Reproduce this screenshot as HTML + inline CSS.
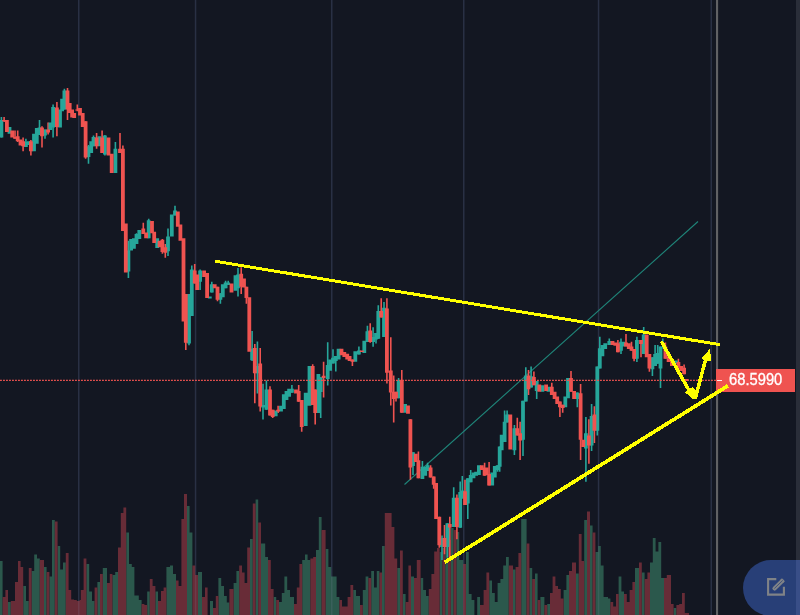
<!DOCTYPE html>
<html lang="en"><head><meta charset="utf-8"><title>Chart</title>
<style>
html,body{margin:0;padding:0;background:#131722;}
body{width:800px;height:615px;overflow:hidden;position:relative;font-family:"Liberation Sans",sans-serif;}
#chart{position:absolute;left:0;top:0;width:800px;height:615px;display:block;}
#price{position:absolute;left:716px;top:369px;width:79px;height:23px;background:#ef5350;color:#fff;font-size:15.6px;line-height:23px;text-align:left;white-space:nowrap;}
#price span{position:absolute;left:12.6px;top:-0.9px;letter-spacing:0px;font-weight:normal;-webkit-text-stroke:0.3px #fff;transform:scaleX(0.945);transform-origin:0 50%;}
#price i{position:absolute;left:1px;top:11px;width:5px;height:1px;background:#fff;opacity:.9;}
#strip{position:absolute;left:796px;top:0;width:4px;height:615px;background:#2a2e39;}
#fab{position:absolute;left:743px;top:560px;width:57px;height:56px;border-radius:28px 0 0 28px;background:#283f77;}
#fab svg{position:absolute;left:23px;top:17px;}
#strip2{position:absolute;left:796px;top:560px;width:4px;height:55px;background:#394e87;}
</style></head><body>
<svg id="chart" width="800" height="615" viewBox="0 0 800 615">
<rect width="800" height="615" fill="#131722"/>
<g fill="#293044">
<rect x="78" y="0" width="1.5" height="615"/>
<rect x="194.8" y="0" width="1.5" height="615"/>
<rect x="331" y="0" width="1.5" height="615"/>
<rect x="463" y="0" width="1.5" height="615"/>
<rect x="597.8" y="0" width="1.5" height="615"/>
<rect x="710.5" y="0" width="1.5" height="615"/>
</g>
<rect x="716" y="0" width="2.1" height="615" fill="#606164"/>
<path fill="#2b584c" d="M0 561H2.6V615H0ZM8 602H10.8V615H8ZM23.2 586H26V615H23.2ZM26 601H28.8V615H26ZM31.6 571H34.2V615H31.6ZM34.2 554.4H37V615H34.2ZM37 558.4H39.8V615H37ZM44 567H46.6V615H44ZM49.4 576.4H52V615H49.4ZM52 520H54.8V615H52ZM57.6 546H60.2V615H57.6ZM60.2 569.6H63V615H60.2ZM63 562.6H65.8V615H63ZM86.4 564H89.2V615H86.4ZM89.2 591.4H92V615H89.2ZM92 601H94.6V615H92ZM97.4 582H100V615H97.4ZM102.8 568H107V615H102.8ZM112.4 575H115.2V615H112.4ZM115.2 572H118V615H115.2ZM126.2 532.4H129V615H126.2ZM129 564H131.8V615H129ZM131.8 567H134.4V615H131.8ZM134.4 595.6H138.8V615H134.4ZM138.8 600H141.6V615H138.8ZM147.2 591.4H149.8V615H147.2ZM155.4 591.4H158V615H155.4ZM166.4 567H170V615H166.4ZM170 565.6H173V615H170ZM173 574H176V615H173ZM187 506H189.6V615H187ZM189.6 532.6H192.4V615H189.6ZM198 572H202V615H198ZM210 601H213V615H210ZM218.4 578H221.2V615H218.4ZM221.2 586H224V615H221.2ZM224 596H226.8V615H224ZM226.8 602.4H229.4V615H226.8ZM233.6 583H236.4V615H233.6ZM236.4 571H239.2V615H236.4ZM250 539H252.8V615H250ZM255.6 499.4H258.2V615H255.6ZM261 543.4H265.2V615H261ZM265.2 557H268V615H265.2ZM273.6 597H276.2V615H273.6ZM279 602H281.8V615H279ZM281.8 593H284.4V615H281.8ZM284.4 576.6H287.2V615H284.4ZM287.2 590H290V615H287.2ZM290 597H294V615H290ZM302.2 560H305V615H302.2ZM305 554.4H307.6V615H305ZM307.6 560H310.4V615H307.6ZM316 550H318.8V615H316ZM318.8 517H320V615H318.8ZM320 517H321.6V615H320ZM325.6 549H328.4V615H325.6ZM328.4 567H331.2V615H328.4ZM331.2 576.4H336.6V615H331.2ZM336.6 597H339.4V615H336.6ZM353.2 590H356V615H353.2ZM356 596H360V615H356ZM362.8 590H365.6V615H362.8ZM365.6 576.4H368.4V615H365.6ZM371.2 571H374V615H371.2ZM374 587.6H376.8V615H374ZM376.8 571H379.4V615H376.8ZM382 546H384.8V615H382ZM397.2 568H400V615H397.2ZM402.8 594H405.6V615H402.8ZM411 576.4H414V615H411ZM420.6 578H423.2V615H420.6ZM423.2 590H426V615H423.2ZM426 596H428.8V615H426ZM439.6 552H442.4V615H439.6ZM445.2 546H448V615H445.2ZM450.8 528H453.6V615H450.8ZM456.4 532H459.2V615H456.4ZM459.2 560H463.2V615H459.2ZM466 552H468.8V615H466ZM468.8 594H471.6V615H468.8ZM471.6 600H474.4V615H471.6ZM477.2 597H480V615H477.2ZM489.2 580.4H492V615H489.2ZM492 593H494.8V615H492ZM494.8 602H497.6V615H494.8ZM497.6 583H500.4V615H497.6ZM500.4 579H503.2V615H500.4ZM503.2 565.4H506V615H503.2ZM506 557H508.8V615H506ZM513 569.6H515.6V615H513ZM521.2 519H526.6V615H521.2ZM529.4 568H532.2V615H529.4ZM535 573.6H537.6V615H535ZM540.4 597H544.4V615H540.4ZM547.2 604H550V615H547.2ZM563.6 590H566.4V615H563.6ZM566.4 575H569V615H566.4ZM576 573.6H578.8V615H576ZM584.2 520H587V615H584.2ZM590 525.4H592.6V615H590ZM595.4 552H598.2V615H595.4ZM598.2 546H600.8V615H598.2ZM600.8 565.4H603.6V615H600.8ZM603.6 597H608V615H603.6ZM608 598.4H610.4V615H608ZM618.6 576.4H621.4V615H618.6ZM621.4 591.4H624V615H621.4ZM635 568H639V615H635ZM641.8 572.4H644.6V615H641.8ZM650 562.6H652.8V615H650ZM652.8 538H655.6V615H652.8ZM655.6 551.6H658.4V615H655.6ZM658.4 542H661.2V615H658.4ZM661.2 578H664V615H661.2ZM673.6 608H676.4V615H673.6Z"/>
<path fill="#682c37" d="M2.6 597H5.4V615H2.6ZM5.4 590H8V615H5.4ZM10.8 601H15V615H10.8ZM15 582H18V615H15ZM18 561H20.6V615H18ZM20.6 567H23.2V615H20.6ZM28.8 568H31.6V615H28.8ZM39.8 560H44V615H39.8ZM46.6 572H49.4V615H46.6ZM54.8 521.4H57.6V615H54.8ZM65.8 553H68.6V615H65.8ZM68.6 590H71.2V615H68.6ZM71.2 599.6H74V615H71.2ZM74 600H76.8V615H74ZM76.8 601H79.6V615H76.8ZM79.6 600H80.8V615H79.6ZM80.8 590H83.6V615H80.8ZM83.6 558.4H86.4V615H83.6ZM94.6 587.4H97.4V615H94.6ZM100 574H102.8V615H100ZM107 583H109.8V615H107ZM109.8 574H112.4V615H109.8ZM118 547.4H120.8V615H118ZM120.8 513H123.4V615H120.8ZM123.4 507.6H126.2V615H123.4ZM141.6 604H144.4V615H141.6ZM144.4 605H147.2V615H144.4ZM149.8 579H152.6V615H149.8ZM152.6 586H155.4V615H152.6ZM158 601H160V615H158ZM160 601H161V615H160ZM161 591H163.6V615H161ZM163.6 587.6H166.4V615H163.6ZM176 580.4H178.6V615H176ZM178.6 586H181.4V615H178.6ZM181.4 519H184V615H181.4ZM184 494H187V615H184ZM192.4 565.4H195.2V615H192.4ZM195.2 575H198V615H195.2ZM202 597H205V615H202ZM205 587.4H207.6V615H205ZM213 608H215.8V615H213ZM215.8 596H218.4V615H215.8ZM229.4 589H233.6V615H229.4ZM239.2 565.4H242V615H239.2ZM242 572.4H244.6V615H242ZM244.6 583H247.2V615H244.6ZM247.2 547.4H250V615H247.2ZM252.8 503.4H255.6V615H252.8ZM258.2 522.6H261V615H258.2ZM268 560H270.8V615H268ZM270.8 589H273.6V615H270.8ZM276.2 600H279V615H276.2ZM294 604H296.8V615H294ZM296.8 587.4H299.4V615H296.8ZM299.4 564H302.2V615H299.4ZM310.4 558.4H313.2V615H310.4ZM313.2 557H316V615H313.2ZM321.6 530H325.6V615H321.6ZM339.4 600H342V615H339.4ZM342 606.4H347.6V615H342ZM347.6 597H350.4V615H347.6ZM350.4 585H353.2V615H350.4ZM360 605H362.8V615H360ZM368.4 578H371.2V615H368.4ZM379.4 572.4H382V615H379.4ZM384.8 513H391.6V615H384.8ZM391.6 527H394.4V615H391.6ZM394.4 558.6H397.2V615H394.4ZM400 550.4H402.8V615H400ZM405.6 602H408.4V615H405.6ZM408.4 565.4H411V615H408.4ZM414 578H416.8V615H414ZM416.8 560H420.6V615H416.8ZM428.8 589H431.4V615H428.8ZM431.4 574H434.2V615H431.4ZM434.2 551.4H437V615H434.2ZM437 548H439.6V615H437ZM442.4 548H445.2V615H442.4ZM448 540H450.8V615H448ZM453.6 530H456.4V615H453.6ZM463.2 564H466V615H463.2ZM480 605H483.6V615H480ZM483.6 590H486.4V615H483.6ZM486.4 572.4H489.2V615H486.4ZM508.8 565.4H513V615H508.8ZM515.6 567H518.4V615H515.6ZM518.4 553H521.2V615H518.4ZM526.6 543.4H529.4V615H526.6ZM532.2 579H535V615H532.2ZM537.6 600H540.4V615H537.6ZM544.4 605H547.2V615H544.4ZM550 593H552.6V615H550ZM552.6 576.4H555.4V615H552.6ZM555.4 586H558V615H555.4ZM558 589H560.8V615H558ZM560.8 598.4H563.6V615H560.8ZM569 571H572V615H569ZM572 562.6H576V615H572ZM578.8 534H581.6V615H578.8ZM581.6 561H584.2V615H581.6ZM587 511.6H590V615H587ZM592.6 532.6H595.4V615H592.6ZM610.4 602H613.2V615H610.4ZM613.2 606.4H616V615H613.2ZM616 594H618.6V615H616ZM624 594H626.8V615H624ZM626.8 602H629.6V615H626.8ZM629.6 590H632.4V615H629.6ZM632.4 582H635V615H632.4ZM639 562.6H640V615H639ZM640 562.6H641.8V615H640ZM644.6 579H647.4V615H644.6ZM647.4 572.4H650V615H647.4ZM664 578H666.8V615H664ZM666.8 575H671V615H666.8ZM671 604H673.6V615H671ZM676.4 605H679.2V615H676.4ZM679.2 604H682V615H679.2ZM682 593H684.8V615H682ZM684.8 613H689V615H684.8Z"/>
<clipPath id="vc"><path d="M0 561H2.6V615H0ZM8 602H10.8V615H8ZM23.2 586H26V615H23.2ZM26 601H28.8V615H26ZM31.6 571H34.2V615H31.6ZM34.2 554.4H37V615H34.2ZM37 558.4H39.8V615H37ZM44 567H46.6V615H44ZM49.4 576.4H52V615H49.4ZM52 520H54.8V615H52ZM57.6 546H60.2V615H57.6ZM60.2 569.6H63V615H60.2ZM63 562.6H65.8V615H63ZM86.4 564H89.2V615H86.4ZM89.2 591.4H92V615H89.2ZM92 601H94.6V615H92ZM97.4 582H100V615H97.4ZM102.8 568H107V615H102.8ZM112.4 575H115.2V615H112.4ZM115.2 572H118V615H115.2ZM126.2 532.4H129V615H126.2ZM129 564H131.8V615H129ZM131.8 567H134.4V615H131.8ZM134.4 595.6H138.8V615H134.4ZM138.8 600H141.6V615H138.8ZM147.2 591.4H149.8V615H147.2ZM155.4 591.4H158V615H155.4ZM166.4 567H170V615H166.4ZM170 565.6H173V615H170ZM173 574H176V615H173ZM187 506H189.6V615H187ZM189.6 532.6H192.4V615H189.6ZM198 572H202V615H198ZM210 601H213V615H210ZM218.4 578H221.2V615H218.4ZM221.2 586H224V615H221.2ZM224 596H226.8V615H224ZM226.8 602.4H229.4V615H226.8ZM233.6 583H236.4V615H233.6ZM236.4 571H239.2V615H236.4ZM250 539H252.8V615H250ZM255.6 499.4H258.2V615H255.6ZM261 543.4H265.2V615H261ZM265.2 557H268V615H265.2ZM273.6 597H276.2V615H273.6ZM279 602H281.8V615H279ZM281.8 593H284.4V615H281.8ZM284.4 576.6H287.2V615H284.4ZM287.2 590H290V615H287.2ZM290 597H294V615H290ZM302.2 560H305V615H302.2ZM305 554.4H307.6V615H305ZM307.6 560H310.4V615H307.6ZM316 550H318.8V615H316ZM318.8 517H320V615H318.8ZM320 517H321.6V615H320ZM325.6 549H328.4V615H325.6ZM328.4 567H331.2V615H328.4ZM331.2 576.4H336.6V615H331.2ZM336.6 597H339.4V615H336.6ZM353.2 590H356V615H353.2ZM356 596H360V615H356ZM362.8 590H365.6V615H362.8ZM365.6 576.4H368.4V615H365.6ZM371.2 571H374V615H371.2ZM374 587.6H376.8V615H374ZM376.8 571H379.4V615H376.8ZM382 546H384.8V615H382ZM397.2 568H400V615H397.2ZM402.8 594H405.6V615H402.8ZM411 576.4H414V615H411ZM420.6 578H423.2V615H420.6ZM423.2 590H426V615H423.2ZM426 596H428.8V615H426ZM439.6 552H442.4V615H439.6ZM445.2 546H448V615H445.2ZM450.8 528H453.6V615H450.8ZM456.4 532H459.2V615H456.4ZM459.2 560H463.2V615H459.2ZM466 552H468.8V615H466ZM468.8 594H471.6V615H468.8ZM471.6 600H474.4V615H471.6ZM477.2 597H480V615H477.2ZM489.2 580.4H492V615H489.2ZM492 593H494.8V615H492ZM494.8 602H497.6V615H494.8ZM497.6 583H500.4V615H497.6ZM500.4 579H503.2V615H500.4ZM503.2 565.4H506V615H503.2ZM506 557H508.8V615H506ZM513 569.6H515.6V615H513ZM521.2 519H526.6V615H521.2ZM529.4 568H532.2V615H529.4ZM535 573.6H537.6V615H535ZM540.4 597H544.4V615H540.4ZM547.2 604H550V615H547.2ZM563.6 590H566.4V615H563.6ZM566.4 575H569V615H566.4ZM576 573.6H578.8V615H576ZM584.2 520H587V615H584.2ZM590 525.4H592.6V615H590ZM595.4 552H598.2V615H595.4ZM598.2 546H600.8V615H598.2ZM600.8 565.4H603.6V615H600.8ZM603.6 597H608V615H603.6ZM608 598.4H610.4V615H608ZM618.6 576.4H621.4V615H618.6ZM621.4 591.4H624V615H621.4ZM635 568H639V615H635ZM641.8 572.4H644.6V615H641.8ZM650 562.6H652.8V615H650ZM652.8 538H655.6V615H652.8ZM655.6 551.6H658.4V615H655.6ZM658.4 542H661.2V615H658.4ZM661.2 578H664V615H661.2ZM673.6 608H676.4V615H673.6ZM2.6 597H5.4V615H2.6ZM5.4 590H8V615H5.4ZM10.8 601H15V615H10.8ZM15 582H18V615H15ZM18 561H20.6V615H18ZM20.6 567H23.2V615H20.6ZM28.8 568H31.6V615H28.8ZM39.8 560H44V615H39.8ZM46.6 572H49.4V615H46.6ZM54.8 521.4H57.6V615H54.8ZM65.8 553H68.6V615H65.8ZM68.6 590H71.2V615H68.6ZM71.2 599.6H74V615H71.2ZM74 600H76.8V615H74ZM76.8 601H79.6V615H76.8ZM79.6 600H80.8V615H79.6ZM80.8 590H83.6V615H80.8ZM83.6 558.4H86.4V615H83.6ZM94.6 587.4H97.4V615H94.6ZM100 574H102.8V615H100ZM107 583H109.8V615H107ZM109.8 574H112.4V615H109.8ZM118 547.4H120.8V615H118ZM120.8 513H123.4V615H120.8ZM123.4 507.6H126.2V615H123.4ZM141.6 604H144.4V615H141.6ZM144.4 605H147.2V615H144.4ZM149.8 579H152.6V615H149.8ZM152.6 586H155.4V615H152.6ZM158 601H160V615H158ZM160 601H161V615H160ZM161 591H163.6V615H161ZM163.6 587.6H166.4V615H163.6ZM176 580.4H178.6V615H176ZM178.6 586H181.4V615H178.6ZM181.4 519H184V615H181.4ZM184 494H187V615H184ZM192.4 565.4H195.2V615H192.4ZM195.2 575H198V615H195.2ZM202 597H205V615H202ZM205 587.4H207.6V615H205ZM213 608H215.8V615H213ZM215.8 596H218.4V615H215.8ZM229.4 589H233.6V615H229.4ZM239.2 565.4H242V615H239.2ZM242 572.4H244.6V615H242ZM244.6 583H247.2V615H244.6ZM247.2 547.4H250V615H247.2ZM252.8 503.4H255.6V615H252.8ZM258.2 522.6H261V615H258.2ZM268 560H270.8V615H268ZM270.8 589H273.6V615H270.8ZM276.2 600H279V615H276.2ZM294 604H296.8V615H294ZM296.8 587.4H299.4V615H296.8ZM299.4 564H302.2V615H299.4ZM310.4 558.4H313.2V615H310.4ZM313.2 557H316V615H313.2ZM321.6 530H325.6V615H321.6ZM339.4 600H342V615H339.4ZM342 606.4H347.6V615H342ZM347.6 597H350.4V615H347.6ZM350.4 585H353.2V615H350.4ZM360 605H362.8V615H360ZM368.4 578H371.2V615H368.4ZM379.4 572.4H382V615H379.4ZM384.8 513H391.6V615H384.8ZM391.6 527H394.4V615H391.6ZM394.4 558.6H397.2V615H394.4ZM400 550.4H402.8V615H400ZM405.6 602H408.4V615H405.6ZM408.4 565.4H411V615H408.4ZM414 578H416.8V615H414ZM416.8 560H420.6V615H416.8ZM428.8 589H431.4V615H428.8ZM431.4 574H434.2V615H431.4ZM434.2 551.4H437V615H434.2ZM437 548H439.6V615H437ZM442.4 548H445.2V615H442.4ZM448 540H450.8V615H448ZM453.6 530H456.4V615H453.6ZM463.2 564H466V615H463.2ZM480 605H483.6V615H480ZM483.6 590H486.4V615H483.6ZM486.4 572.4H489.2V615H486.4ZM508.8 565.4H513V615H508.8ZM515.6 567H518.4V615H515.6ZM518.4 553H521.2V615H518.4ZM526.6 543.4H529.4V615H526.6ZM532.2 579H535V615H532.2ZM537.6 600H540.4V615H537.6ZM544.4 605H547.2V615H544.4ZM550 593H552.6V615H550ZM552.6 576.4H555.4V615H552.6ZM555.4 586H558V615H555.4ZM558 589H560.8V615H558ZM560.8 598.4H563.6V615H560.8ZM569 571H572V615H569ZM572 562.6H576V615H572ZM578.8 534H581.6V615H578.8ZM581.6 561H584.2V615H581.6ZM587 511.6H590V615H587ZM592.6 532.6H595.4V615H592.6ZM610.4 602H613.2V615H610.4ZM613.2 606.4H616V615H613.2ZM616 594H618.6V615H616ZM624 594H626.8V615H624ZM626.8 602H629.6V615H626.8ZM629.6 590H632.4V615H629.6ZM632.4 582H635V615H632.4ZM639 562.6H640V615H639ZM640 562.6H641.8V615H640ZM644.6 579H647.4V615H644.6ZM647.4 572.4H650V615H647.4ZM664 578H666.8V615H664ZM666.8 575H671V615H666.8ZM671 604H673.6V615H671ZM676.4 605H679.2V615H676.4ZM679.2 604H682V615H679.2ZM682 593H684.8V615H682ZM684.8 613H689V615H684.8Z"/></clipPath>
<g fill="#8a8fb0" opacity="0.16" clip-path="url(#vc)">
<rect x="78" y="492" width="1.5" height="123"/>
<rect x="194.8" y="492" width="1.5" height="123"/>
<rect x="331" y="492" width="1.5" height="123"/>
<rect x="463" y="492" width="1.5" height="123"/>
<rect x="597.8" y="492" width="1.5" height="123"/>
</g>
<line x1="404.5" y1="484.5" x2="698" y2="221.5" stroke="#1f8579" stroke-width="1.1"/>
<path fill="#26a69a" d="M0.6 116.9h1.6V137.5h-1.6ZM25.1 138.8h1.6V146.9h-1.6ZM38.7 120h1.6V135h-1.6ZM44.2 129.4h1.6V138.8h-1.6ZM52.3 104.4h1.6V137.5h-1.6ZM63.6 88.8h1.6V109.4h-1.6ZM87.7 145h1.6V163.8h-1.6ZM92.7 135.6h1.6V146.2h-1.6ZM104.1 135h1.6V155.6h-1.6ZM114.6 141.9h1.6V173.1h-1.6ZM127.6 240.7h1.6V278h-1.6ZM135.7 233.3h1.6V243.9h-1.6ZM147.9 218.7h1.6V238.2h-1.6ZM167.2 228.5h1.6V256.1h-1.6ZM174.2 205.7h1.6V215.4h-1.6ZM188.2 294h1.6V345.2h-1.6ZM191 265.6h1.6V316h-1.6ZM199.3 269.6h1.6V290h-1.6ZM211 281.8h1.6V292.4h-1.6ZM219.6 293.2h1.6V303.8h-1.6ZM224.8 280.7h1.6V288.3h-1.6ZM227.4 280.7h1.6V285.1h-1.6ZM237.2 268h1.6V296.5h-1.6ZM251.3 330.9h1.6V361h-1.6ZM256.6 341.5h1.6V393.5h-1.6ZM262.2 383.8h1.6V419.6h-1.6ZM265.6 380.5h1.6V409.8h-1.6ZM291.1 385.1h1.6V392.7h-1.6ZM319.9 377.3h1.6V417.9h-1.6ZM326.9 342.3h1.6V385.4h-1.6ZM332.2 349.3h1.6V363.5h-1.6ZM335 356.1h1.6V371.6h-1.6ZM358.1 346.4h1.6V354.5h-1.6ZM366.6 325.7h1.6V341.9h-1.6ZM372.3 327.3h1.6V346.8h-1.6ZM375.2 333h1.6V343.5h-1.6ZM377.5 305.3h1.6V338.7h-1.6ZM383.2 302.1h1.6V337h-1.6ZM397.8 377.9h1.6V398.2h-1.6ZM412.2 452.2h1.6V475h-1.6ZM421.6 461.1h1.6V479h-1.6ZM426.8 462.8h1.6V470.9h-1.6ZM441.2 535.5h1.6V559.9h-1.6ZM446.6 523.3h1.6V557.5h-1.6ZM452.9 487.2h1.6V527h-1.6ZM459.4 481.5h1.6V527.8h-1.6ZM461.5 476.1h1.6V498.5h-1.6ZM467 478.2h1.6V518.9h-1.6ZM469.9 470.1h1.6V482.3h-1.6ZM496.8 465.2h1.6V471.7h-1.6ZM498.9 446.5h1.6V471.7h-1.6ZM503.8 410.4h1.6V442.1h-1.6ZM506.3 410.4h1.6V422.6h-1.6ZM513.6 425h1.6V455.1h-1.6ZM522.2 400.7h1.6V455.9h-1.6ZM525 367.3h1.6V401.5h-1.6ZM530.3 366.5h1.6V387.6h-1.6ZM535.9 381.1h1.6V399h-1.6ZM576.5 392.5h1.6V407.2h-1.6ZM585.1 416.9h1.6V481.8h-1.6ZM590.8 403.9h1.6V451.1h-1.6ZM596.5 366.5h1.6V435.6h-1.6ZM599 336.8h1.6V368.5h-1.6ZM608.5 338.5h1.6V345h-1.6ZM620.2 338.5h1.6V353.9h-1.6ZM636.1 336.8h1.6V362h-1.6ZM642.9 327.1h1.6V353.9h-1.6ZM651.6 357.2h1.6V375.9h-1.6ZM654.3 345h1.6V366.1h-1.6ZM656.9 345h1.6V363.7h-1.6ZM659.7 346.6h1.6V388h-1.6ZM662 338.5h1.6V348.2h-1.6Z"/>
<path fill="#ef5350" d="M3.3 116.9h1.6V121.9h-1.6ZM14.2 130.6h1.6V138.8h-1.6ZM16.9 130.6h1.6V141.9h-1.6ZM22.3 137.5h1.6V151.2h-1.6ZM30.1 140h1.6V155.6h-1.6ZM41.2 126.2h1.6V147.5h-1.6ZM47.3 122.5h1.6V134.4h-1.6ZM56.1 101.9h1.6V136.2h-1.6ZM66.7 88.1h1.6V120h-1.6ZM76.5 104.4h1.6V111.2h-1.6ZM84.8 121.2h1.6V158.8h-1.6ZM95.8 133.1h1.6V148.8h-1.6ZM101.3 130.6h1.6V153.1h-1.6ZM119.2 133.1h1.6V153.1h-1.6ZM122.1 145.6h1.6V231h-1.6ZM142.5 222.8h1.6V234.1h-1.6ZM161.6 239h1.6V253.7h-1.6ZM164.5 243.9h1.6V257.7h-1.6ZM185 294h1.6V350.1h-1.6ZM193.9 263.9h1.6V283.5h-1.6ZM216.7 286.7h1.6V301.3h-1.6ZM240.4 267.2h1.6V294h-1.6ZM245.6 286.7h1.6V303.8h-1.6ZM254 343.9h1.6V403.3h-1.6ZM259.4 348h1.6V411.4h-1.6ZM269.2 386.2h1.6V415.5h-1.6ZM271.9 409.8h1.6V417.9h-1.6ZM277.3 405.7h1.6V413h-1.6ZM297.9 385.1h1.6V401.7h-1.6ZM300.9 400h1.6V431.7h-1.6ZM311.9 364.3h1.6V404.9h-1.6ZM314.4 389.5h1.6V424.4h-1.6ZM322.8 361.8h1.6V397.6h-1.6ZM351.6 359.4h1.6V365.9h-1.6ZM369.4 323.2h1.6V342.7h-1.6ZM380.4 298.3h1.6V317.5h-1.6ZM386.1 298.3h1.6V383.4h-1.6ZM390 337.2h1.6V405.5h-1.6ZM392.9 375.4h1.6V422.6h-1.6ZM395.2 391.7h1.6V401.5h-1.6ZM401 370.1h1.6V412.8h-1.6ZM409.6 419.3h1.6V479.7h-1.6ZM417.6 451.4h1.6V478.2h-1.6ZM429.8 465.2h1.6V477.4h-1.6ZM432.9 476.6h1.6V488.8h-1.6ZM438.5 516.8h1.6V547.7h-1.6ZM443.7 525h1.6V554.2h-1.6ZM449 516.8h1.6V558.3h-1.6ZM456.1 494.5h1.6V539.2h-1.6ZM464.2 479.8h1.6V505h-1.6ZM483.8 462.8h1.6V475.8h-1.6ZM488.3 462h1.6V485.5h-1.6ZM516.5 417.7h1.6V435.6h-1.6ZM519.3 421.8h1.6V460h-1.6ZM527.7 370.1h1.6V395h-1.6ZM533.1 371.4h1.6V385.2h-1.6ZM551 382.8h1.6V395h-1.6ZM559.1 401.5h1.6V416.9h-1.6ZM561.9 404.7h1.6V412.8h-1.6ZM570.2 371.1h1.6V391.7h-1.6ZM579.8 384.1h1.6V460h-1.6ZM588.1 419.3h1.6V463.7h-1.6ZM593.6 406.3h1.6V442.9h-1.6ZM617.1 340.1h1.6V352.3h-1.6ZM625.2 334.1h1.6V346.6h-1.6ZM630.7 341.7h1.6V350.7h-1.6ZM633.3 349h1.6V361.2h-1.6ZM640.2 340.1h1.6V357.2h-1.6ZM648.6 353.9h1.6V371.8h-1.6ZM664.6 342.5h1.6V358.8h-1.6ZM677.6 358.8h1.6V367.7h-1.6ZM683.3 364.5h1.6V374.2h-1.6Z"/>
<path fill="#26a69a" d="M-0.5 120h3.8V137.5h-3.8ZM7.6 126.9h3.8V133.8h-3.8ZM24 141.9h3.8V146.9h-3.8ZM26.7 141.2h3.8V145h-3.8ZM32.1 133.8h3.8V151.2h-3.8ZM34.9 128.1h3.8V143.8h-3.8ZM37.6 127.5h3.8V135h-3.8ZM43.1 129.4h3.8V135.6h-3.8ZM48.5 122.5h3.8V130h-3.8ZM51.2 106.9h3.8V127.5h-3.8ZM58.1 109.4h3.8V127.5h-3.8ZM60.2 98.8h3.8V111.2h-3.8ZM62.5 90.6h3.8V109.4h-3.8ZM86.6 146.2h3.8V156.9h-3.8ZM89.3 141.2h3.8V153.1h-3.8ZM91.6 136.9h3.8V146.2h-3.8ZM97.5 136.2h3.8V146.2h-3.8ZM103 135.6h3.8V154.4h-3.8ZM113.5 148.8h3.8V173.1h-3.8ZM126.5 250.4h3.8V271.5h-3.8ZM129.2 239h3.8V250.4h-3.8ZM132 238.2h3.8V248.8h-3.8ZM134.6 234.1h3.8V243.9h-3.8ZM137.4 230.1h3.8V239h-3.8ZM146.8 220.3h3.8V238.2h-3.8ZM155.3 238.2h3.8V248h-3.8ZM166.1 236.6h3.8V251.2h-3.8ZM169.9 214.6h3.8V236.6h-3.8ZM173.1 210.6h3.8V215.4h-3.8ZM187.1 294h3.8V343.6h-3.8ZM189.9 269.6h3.8V316h-3.8ZM198.2 270.4h3.8V281.8h-3.8ZM207.9 296.5h3.8V298.6h-3.8ZM209.9 284.3h3.8V292.4h-3.8ZM218.5 293.2h3.8V299.7h-3.8ZM220.9 284.3h3.8V297.3h-3.8ZM223.7 282.6h3.8V288.3h-3.8ZM226.3 282.6h3.8V285.1h-3.8ZM233.6 275.3h3.8V290.8h-3.8ZM236.1 274.5h3.8V288.3h-3.8ZM250.2 348.8h3.8V360.2h-3.8ZM255.5 365.9h3.8V373.2h-3.8ZM261.1 404.9h3.8V407.4h-3.8ZM264.5 389.5h3.8V409.8h-3.8ZM273.8 410.6h3.8V416.3h-3.8ZM279.1 405.7h3.8V411.4h-3.8ZM281.9 394.3h3.8V409h-3.8ZM284.6 391.1h3.8V400h-3.8ZM287.2 388.7h3.8V396.8h-3.8ZM290 388.7h3.8V392.7h-3.8ZM303.8 392.7h3.8V426.1h-3.8ZM307.6 365.9h3.8V405.7h-3.8ZM316.5 374h3.8V413h-3.8ZM318.8 377.3h3.8V391.9h-3.8ZM325.8 365.1h3.8V378.9h-3.8ZM328.2 359.4h3.8V370.8h-3.8ZM331.1 357.8h3.8V363.5h-3.8ZM333.9 356.1h3.8V361h-3.8ZM336.7 348.8h3.8V359.4h-3.8ZM353.4 351.3h3.8V361.8h-3.8ZM357 350.4h3.8V354.5h-3.8ZM362.4 340.7h3.8V352.9h-3.8ZM365.5 331.3h3.8V341.9h-3.8ZM371.2 337h3.8V341.9h-3.8ZM374.1 333h3.8V339.5h-3.8ZM376.4 311h3.8V338.7h-3.8ZM382.1 307.8h3.8V337h-3.8ZM396.7 380.3h3.8V398.2h-3.8ZM403.2 403.9h3.8V412.8h-3.8ZM411.1 452.2h3.8V466h-3.8ZM420.5 466.8h3.8V479h-3.8ZM423.3 466.8h3.8V475.8h-3.8ZM425.7 465.2h3.8V470.9h-3.8ZM440.1 538h3.8V546.9h-3.8ZM445.5 523.3h3.8V546.9h-3.8ZM451.8 497.7h3.8V527h-3.8ZM458.3 492h3.8V527.8h-3.8ZM460.4 490.4h3.8V498.5h-3.8ZM465.9 478.2h3.8V503.4h-3.8ZM468.8 475h3.8V482.3h-3.8ZM471.6 472.5h3.8V478.2h-3.8ZM474.2 471.7h3.8V475.8h-3.8ZM477 465.2h3.8V475h-3.8ZM490.3 472.5h3.8V485.5h-3.8ZM492.9 466h3.8V477.4h-3.8ZM495.7 465.2h3.8V470.1h-3.8ZM497.8 446.5h3.8V466.8h-3.8ZM499.8 434.8h3.8V450.2h-3.8ZM502.7 421.8h3.8V442.1h-3.8ZM505.2 414.5h3.8V422.6h-3.8ZM512.5 428.3h3.8V450.2h-3.8ZM521.1 400.7h3.8V439.7h-3.8ZM523.9 375.4h3.8V401.5h-3.8ZM529.2 376.3h3.8V387.6h-3.8ZM534.8 381.1h3.8V390.9h-3.8ZM540.5 385.2h3.8V391.7h-3.8ZM546.6 386.8h3.8V391.7h-3.8ZM563.4 396.6h3.8V407.2h-3.8ZM566.1 377.9h3.8V398.2h-3.8ZM575.4 392.5h3.8V399h-3.8ZM584 433.2h3.8V448.6h-3.8ZM589.7 416.1h3.8V445.4h-3.8ZM595.4 366.5h3.8V430.7h-3.8ZM597.9 348.2h3.8V368.5h-3.8ZM600.5 345h3.8V356.3h-3.8ZM603.3 343.3h3.8V349h-3.8ZM607.4 340.9h3.8V345h-3.8ZM619.1 341.7h3.8V350.7h-3.8ZM621.2 341.7h3.8V346.6h-3.8ZM635 340.1h3.8V358.8h-3.8ZM641.8 334.4h3.8V353.9h-3.8ZM650.5 357.2h3.8V369.3h-3.8ZM653.2 353.9h3.8V366.1h-3.8ZM655.8 353.1h3.8V363.7h-3.8ZM658.6 346.6h3.8V368.5h-3.8ZM660.9 346.6h3.8V348.2h-3.8ZM674 360.4h3.8V363.7h-3.8Z"/>
<path fill="#ef5350" d="M2.2 120h3.8V121.2h-3.8ZM5 120h3.8V131.9h-3.8ZM10.3 130.6h3.8V137.5h-3.8ZM13.1 136.9h3.8V138.8h-3.8ZM15.8 136.2h3.8V141.2h-3.8ZM18.6 139.4h3.8V145.6h-3.8ZM21.2 141.2h3.8V146.2h-3.8ZM29 141.2h3.8V151.2h-3.8ZM40.1 127.5h3.8V136.2h-3.8ZM46.2 129.4h3.8V132.5h-3.8ZM55 107.5h3.8V126.9h-3.8ZM65.6 90.6h3.8V109.4h-3.8ZM67.8 103.1h3.8V113.1h-3.8ZM70.2 109.4h3.8V117.5h-3.8ZM72.3 113.1h3.8V118.1h-3.8ZM75.3 109.4h3.8V110.6h-3.8ZM78.1 108.1h3.8V115.6h-3.8ZM80.8 113.1h3.8V126.9h-3.8ZM83.7 121.2h3.8V157.5h-3.8ZM94.7 137.5h3.8V146.2h-3.8ZM100.2 137.5h3.8V153.1h-3.8ZM106.6 137.5h3.8V155.6h-3.8ZM109.8 153.8h3.8V173.1h-3.8ZM118.1 148.8h3.8V153.1h-3.8ZM121 148.8h3.8V231h-3.8ZM123.9 223.6h3.8V272.4h-3.8ZM141.4 228.5h3.8V234.1h-3.8ZM144.2 232.5h3.8V238.2h-3.8ZM150.1 221.1h3.8V233.3h-3.8ZM152.3 231.7h3.8V243.1h-3.8ZM157.7 240.7h3.8V247.2h-3.8ZM160.5 239.8h3.8V252h-3.8ZM163.4 247.2h3.8V252.8h-3.8ZM175.9 211.4h3.8V226.8h-3.8ZM178.5 224.4h3.8V240.7h-3.8ZM181.6 238.2h3.8V321.6h-3.8ZM183.9 294h3.8V342.8h-3.8ZM192.8 270.4h3.8V283.5h-3.8ZM195.3 274.5h3.8V290h-3.8ZM202.2 270.4h3.8V277h-3.8ZM205.2 272.9h3.8V298.1h-3.8ZM212.8 284.3h3.8V288.3h-3.8ZM215.6 286.7h3.8V299.7h-3.8ZM229.6 283.5h3.8V292.4h-3.8ZM239.3 273.7h3.8V286.7h-3.8ZM242.1 278.6h3.8V287.5h-3.8ZM244.5 286.7h3.8V298.1h-3.8ZM247.4 297.3h3.8V351.7h-3.8ZM252.9 348h3.8V373.2h-3.8ZM258.3 363.5h3.8V406.5h-3.8ZM268.1 389.5h3.8V415.5h-3.8ZM270.8 409.8h3.8V417.1h-3.8ZM276.2 409.8h3.8V411.4h-3.8ZM294.1 389.5h3.8V393.5h-3.8ZM296.8 391.1h3.8V401.7h-3.8ZM299.8 400h3.8V426.9h-3.8ZM310.8 365.9h3.8V404.9h-3.8ZM313.3 389.5h3.8V413h-3.8ZM321.7 375.7h3.8V378.1h-3.8ZM339.6 348.8h3.8V355.3h-3.8ZM342.4 352.1h3.8V357h-3.8ZM345.3 353.7h3.8V359.4h-3.8ZM347.7 356.1h3.8V361h-3.8ZM350.5 359.4h3.8V361.8h-3.8ZM359.9 350.4h3.8V352.1h-3.8ZM368.3 330.5h3.8V341.9h-3.8ZM379.3 311h3.8V317.5h-3.8ZM385 308.6h3.8V372.8h-3.8ZM388.9 370.6h3.8V392.5h-3.8ZM391.8 391.7h3.8V399h-3.8ZM394.1 391.7h3.8V398.2h-3.8ZM399.9 380.3h3.8V412.8h-3.8ZM406.1 405.5h3.8V413.7h-3.8ZM408.5 419.3h3.8V467.5h-3.8ZM413.9 453.8h3.8V462h-3.8ZM416.5 460.3h3.8V478.2h-3.8ZM428.7 467.6h3.8V477.4h-3.8ZM431.8 476.6h3.8V484.7h-3.8ZM434.2 483.1h3.8V518.9h-3.8ZM437.4 516.8h3.8V545.3h-3.8ZM442.6 538h3.8V546.9h-3.8ZM447.9 524.1h3.8V527.4h-3.8ZM455 497.7h3.8V527h-3.8ZM463.1 491.2h3.8V505h-3.8ZM479.9 465.2h3.8V470.1h-3.8ZM482.7 467.6h3.8V475.8h-3.8ZM484.8 467.6h3.8V475h-3.8ZM487.2 474.1h3.8V485.5h-3.8ZM508.4 414.5h3.8V449.4h-3.8ZM515.4 428.3h3.8V435.6h-3.8ZM518.2 433.2h3.8V440.5h-3.8ZM526.6 375.4h3.8V389.3h-3.8ZM532 377.1h3.8V385.2h-3.8ZM537.4 384.4h3.8V391.7h-3.8ZM544.2 384.4h3.8V390.9h-3.8ZM549.9 386.8h3.8V395h-3.8ZM552.7 391.7h3.8V399h-3.8ZM555.3 396.6h3.8V403.9h-3.8ZM558 401.5h3.8V407.2h-3.8ZM560.8 404.7h3.8V408h-3.8ZM569.1 377.9h3.8V391.7h-3.8ZM572.2 390.9h3.8V399h-3.8ZM578.7 393.3h3.8V439.7h-3.8ZM581.3 439.7h3.8V447h-3.8ZM587 435.6h3.8V445.4h-3.8ZM592.5 414.5h3.8V430.7h-3.8ZM610.6 340.9h3.8V345h-3.8ZM613.4 342.5h3.8V345.8h-3.8ZM616 343.3h3.8V352.3h-3.8ZM624.1 342.5h3.8V346.6h-3.8ZM626.9 343.3h3.8V349h-3.8ZM629.6 346.6h3.8V350.7h-3.8ZM632.2 349h3.8V358.8h-3.8ZM639.1 340.1h3.8V344.1h-3.8ZM644.8 334.4h3.8V357.2h-3.8ZM647.5 353.9h3.8V368.5h-3.8ZM663.5 346.6h3.8V358.8h-3.8ZM666.7 356.3h3.8V362h-3.8ZM670 360.4h3.8V366.1h-3.8ZM676.5 362h3.8V367.7h-3.8ZM679.2 366.1h3.8V371h-3.8ZM682.2 367.7h3.8V374.2h-3.8ZM684.9 379.1h3.8V381.1h-3.8Z"/>
<line x1="0" y1="380.45" x2="716" y2="380.45" stroke="#ef5350" stroke-width="1.25" stroke-dasharray="1.9 1.1" opacity="0.95"/>
<g stroke="#ffff00" fill="none" stroke-linecap="butt" shape-rendering="crispEdges">
<line x1="215" y1="261.2" x2="720" y2="344.7" stroke-width="3.0"/>
<line x1="444.5" y1="562.4" x2="727.9" y2="385.8" stroke-width="3.7"/>
<path d="M661.3 341.3L692.5 396.5M695.3 398.5L706 358" stroke-width="3.5"/>
<path d="M685 392.3L692.3 387L697.6 392L694.3 400Z M710.2 348.6L701.9 358L704 360.2L711 361.6Z" fill="#ffff00" stroke="none"/>
</g>
</svg>
<div id="strip"></div>
<div id="price"><i></i><span>68.5990</span></div>
<svg id="over" width="800" height="615" viewBox="0 0 800 615" style="position:absolute;left:0;top:0;pointer-events:none"><line x1="715.8" y1="393.35" x2="727.9" y2="385.8" stroke="#ffff00" stroke-width="3.7" shape-rendering="crispEdges"/></svg>
<div id="fab"><svg width="20" height="20" viewBox="0 0 20 20" fill="none" stroke="#808387" stroke-width="2.1"><path d="M10.3 2.1H2.1V17.6H17.9V9.7"/><path d="M8.5 11.4L15.9 4.2" stroke-width="4.2" stroke-linecap="round"/><path d="M15.4 4.7L17.4 2.75" stroke-width="4.2"/><path d="M8.7 11.2L16.4 3.7" stroke="#283f77" stroke-width="1" stroke-linecap="round" opacity="0.7"/></svg></div>
<div id="strip2"></div>
</body></html>
